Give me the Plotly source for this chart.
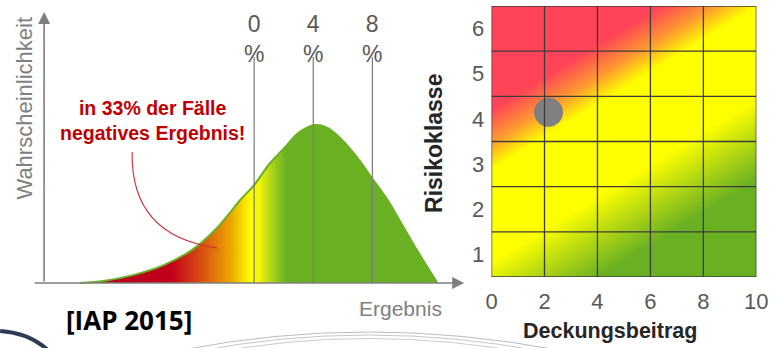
import plotly.graph_objects as go

# ---- left panel: distribution of the result (Ergebnis, in %) ----
ergebnis_x = [-11.8, -10.2, -8.2, -6.2, -4.2, -2.5, -0.9, 0, 1, 2, 3, 4.1, 5, 6, 7, 8, 9, 10, 11, 12.4]
wahrscheinlichkeit = [0, 0.013, 0.05, 0.11, 0.21, 0.35, 0.53, 0.62, 0.75, 0.85, 0.95, 1.0, 0.98, 0.9,
                      0.79, 0.66, 0.53, 0.37, 0.21, 0]
marker_pct = [0, 4, 8]
marker_labels = ["0<br>%", "4<br>%", "8<br>%"]

# ---- right panel: risk matrix ----
deckung_ticks = [0, 2, 4, 6, 8, 10]
risiko_klassen = [1, 2, 3, 4, 5, 6]
# gradient values at the four corners of the matrix (rows: bottom, top)
corner_x = [0, 10]
corner_y = [0.5, 6.5]
corner_z = [[0.0, -0.6],
            [1.0, 0.4]]
punkt_deckung = [2.15]
punkt_risiko = [4.15]

W, H = 782, 348
FONT = "Liberation Sans, Arial, sans-serif"


def px_x(p):
    return p / W


def px_y(p):
    return 1 - p / H


def path_px(cmds):
    """Build an SVG path in paper units from pixel coordinates."""
    out = []
    for c in cmds:
        if isinstance(c, str):
            out.append(c)
        else:
            out.append(f"{px_x(c[0]):.5f},{px_y(c[1]):.5f}")
    return " ".join(out)


fig = go.Figure()

# filled distribution with a horizontal red-yellow-green gradient
fig.add_trace(go.Scatter(
    x=ergebnis_x, y=wahrscheinlichkeit, mode="lines",
    line=dict(color="#6ab023", width=2, shape="spline", smoothing=0.8),
    fill="tozeroy",
    fillgradient=dict(
        type="horizontal", start=-12, stop=13,
        colorscale=[[0.0, "#b5001c"], [0.244, "#c0001a"], [0.336, "#dc5a10"],
                    [0.404, "#eaa800"], [0.456, "#ffff00"], [0.48, "#f5f500"],
                    [0.486, "#dcec12"], [0.548, "#6ab023"], [1.0, "#6ab023"]]),
    hoverinfo="skip", showlegend=False, xaxis="x", yaxis="y"))

# risk matrix background gradient
fig.add_trace(go.Heatmap(
    x=corner_x, y=corner_y, z=corner_z, zsmooth="best", zmin=-0.6, zmax=1.0,
    colorscale=[[0.0, "#6ab023"], [0.225, "#6ab023"], [0.4125, "#ffff00"],
                [0.625, "#ffff00"], [0.6875, "#fe9a30"], [0.7625, "#ff4458"],
                [1.0, "#ff4458"]],
    showscale=False, hoverinfo="skip", xaxis="x2", yaxis="y2"))

fig.add_trace(go.Scatter(
    x=punkt_deckung, y=punkt_risiko, mode="markers",
    marker=dict(size=29, color="#808080"), cliponaxis=False,
    hoverinfo="skip", showlegend=False, xaxis="x2", yaxis="y2"))

shapes = []
# percentage marker lines
for m in marker_pct:
    shapes.append(dict(type="line", xref="x", yref="y", x0=m, x1=m, y0=0, y1=1.43,
                       line=dict(color="#7a7a7a", width=1.2), layer="above"))
# curved pointer from the red note to the negative part
shapes.append(dict(type="path", xref="x", yref="y",
                   path="M -8.26,0.829 Q -8.36,0.297 -2.51,0.222",
                   line=dict(color="#c8303a", width=1.1)))
# matrix grid
for xv in deckung_ticks:
    shapes.append(dict(type="line", xref="x2", yref="y2", x0=xv, x1=xv, y0=0.5, y1=6.5,
                       line=dict(color="#3c3c3c", width=1.3), layer="above"))
for r in [risiko_klassen[0] - 0.5] + [k + 0.5 for k in risiko_klassen]:
    shapes.append(dict(type="line", xref="x2", yref="y2", x0=0, x1=10, y0=r, y1=r,
                       line=dict(color="#3c3c3c", width=1.3), layer="above"))
# decorative slide arcs along the bottom edge
for p, col, w in [
    (["M", (180, 350), "Q", (370, 314), (565, 350)], "#b7bcc4", 1),
    (["M", (192, 352), "Q", (370, 318), (552, 352)], "#c4c8ce", 1),
    (["M", (205, 354), "Q", (370, 323), (540, 354)], "#c9ccd2", 1),
    (["M", (-6, 331), "Q", (26, 333), (46, 353)], "#2c3b56", 4),
]:
    shapes.append(dict(type="path", xref="paper", yref="paper", path=path_px(p),
                       line=dict(color=col, width=w)))

annotations = []
# axis arrows of the left panel
annotations.append(dict(xref="paper", yref="paper", x=px_x(39), y=px_y(12), ax=0, ay=271,
                        axref="pixel", ayref="pixel", text="", showarrow=True,
                        arrowhead=2, arrowsize=1.5, arrowwidth=1.6, arrowcolor="#7f7f7f"))
annotations.append(dict(xref="paper", yref="paper", x=px_x(469), y=px_y(283), ax=-431, ay=0,
                        axref="pixel", ayref="pixel", text="", showarrow=True,
                        arrowhead=2, arrowsize=1.5, arrowwidth=1.6, arrowcolor="#7f7f7f"))
for m, lab in zip(marker_pct, marker_labels):
    annotations.append(dict(xref="x", yref="paper", x=m, y=px_y(39), text=lab, showarrow=False,
                            font=dict(family=FONT, size=23, color="#595959"),
                            xanchor="center", yanchor="middle"))


def label(x, y, text, size, color, family=FONT, angle=0):
    return dict(xref="paper", yref="paper", x=px_x(x), y=px_y(y), text=text,
                textangle=angle, showarrow=False, xanchor="center", yanchor="middle",
                font=dict(family=family, size=size, color=color))


annotations += [
    label(19, 108, "Wahrscheinlichkeit", 22, "#808080", angle=-90),
    label(404, 308, "Ergebnis", 21, "#808080"),
    label(150, 120, "<b>in 33% der Fälle<br>negatives Ergebnis!</b>", 19.5, "#c00000"),
    label(126, 320, "<b>[IAP 2015]</b>", 26, "#000000", family="Open Sans, sans-serif"),
    label(438, 143, "<b>Risikoklasse</b>", 23, "#262626", angle=-90),
    label(618, 331, "<b>Deckungsbeitrag</b>", 21.5, "#262626"),
]

fig.update_layout(
    width=W, height=H, margin=dict(l=0, r=0, t=0, b=0),
    paper_bgcolor="white", plot_bgcolor="white", showlegend=False,
    xaxis=dict(domain=[0, 1], range=[-254 / 15.125, (W - 254) / 15.125], visible=False),
    yaxis=dict(domain=[0, 1], range=[-65 / 158, 283 / 158], visible=False),
    xaxis2=dict(domain=[px_x(497), px_x(768)], range=[0, 10], anchor="y2",
                tickvals=deckung_ticks, showgrid=False, zeroline=False,
                ticks="outside", ticklen=5, tickcolor="rgba(0,0,0,0)",
                tickfont=dict(family=FONT, size=22, color="#595959")),
    yaxis2=dict(domain=[px_y(277), px_y(6)], range=[0.5, 6.5], anchor="x2",
                tickvals=risiko_klassen, showgrid=False, zeroline=False,
                ticks="outside", ticklen=2, tickcolor="rgba(0,0,0,0)",
                tickfont=dict(family=FONT, size=22, color="#595959")),
    shapes=shapes, annotations=annotations,
)

fig.write_html("out.html")
